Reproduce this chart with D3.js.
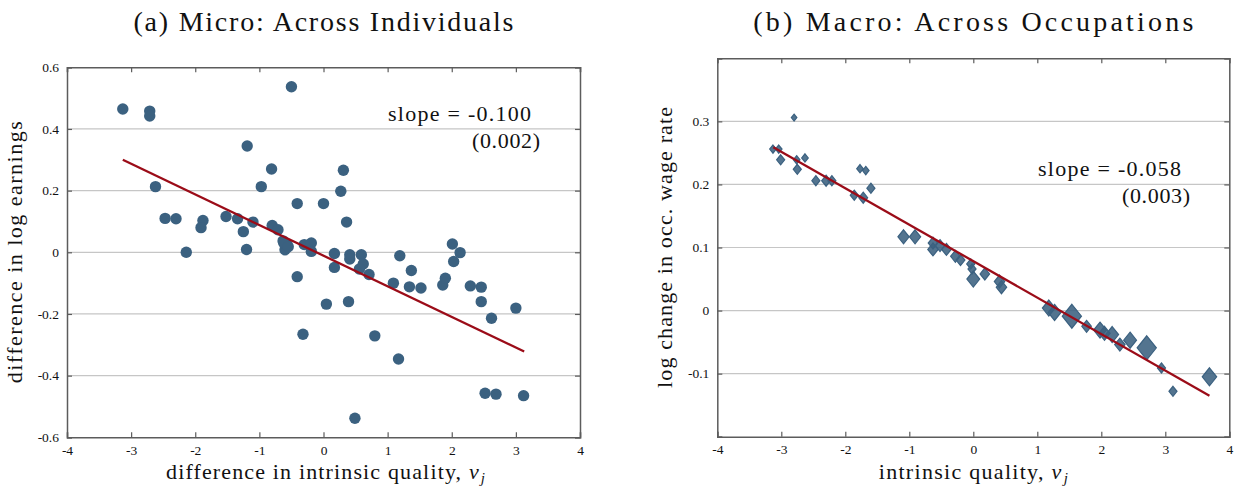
<!DOCTYPE html>
<html>
<head>
<meta charset="utf-8">
<script src="https://cdn.jsdelivr.net/npm/d3@7"></script>
<style>
  html, body { margin: 0; padding: 0; background: #fff; }
  svg text { font-family: "Liberation Serif", "DejaVu Serif", serif; fill: #111; }
</style>
</head>
<body>
<svg id="chart" width="1239" height="487"></svg>
<script>
// ---------- data ----------
const xTicks = [-4, -3, -2, -1, 0, 1, 2, 3, 4];
const microYTicks = [-0.6, -0.4, -0.2, 0, 0.2, 0.4, 0.6];
const macroYTicks = [-0.1, 0, 0.1, 0.2, 0.3];

const microX = [-3.13, -2.71, -2.71, -2.62, -2.47, -2.30, -2.14, -1.88, -1.91, -1.52,
  -1.34, -1.25, -1.19, -1.20, -1.10, -0.97, -0.81, -0.80, -0.71, -0.63,
  -0.57, -0.60, -0.50, -0.41, -0.41, -0.32, -0.30, -0.19, -0.19, 0.00,
  0.045, 0.17, 0.17, 0.27, 0.31, 0.36, 0.39, 0.41, 0.41, 0.49,
  0.59, 0.62, 0.56, 0.71, 0.80, 1.09, 1.19, 1.17, 1.37, 1.34,
  1.52, 1.86, 1.90, 2.01, 2.13, 2.03, 2.29, 2.46, 2.46, 2.62,
  3.00, 2.52, 2.69, 3.12, -0.62, -0.55];
const microY = [0.465, 0.458, 0.442, 0.213, 0.110, 0.109, 0.000, 0.103, 0.080, 0.116,
  0.109, 0.067, 0.345, 0.009, 0.098, 0.213, 0.270, 0.087, 0.073, 0.037,
  0.026, 0.008, 0.537, 0.158, -0.079, -0.266, 0.025, 0.030, 0.003, 0.158,
  -0.168, -0.004, -0.049, 0.198, 0.266, 0.098, -0.160, -0.008, -0.022, -0.538,
  -0.008, -0.038, -0.054, -0.072, -0.271, -0.100, -0.011, -0.346, -0.059, -0.112,
  -0.116, -0.106, -0.084, 0.027, -0.001, -0.030, -0.109, -0.113, -0.160, -0.214,
  -0.181, -0.457, -0.460, -0.465, 0.030, 0.018];
const microFitX = [-3.13, 3.13];
const microFitY = [0.300, -0.322];

const macroX = [-3.13, -3.04, -3.01, -2.80, -2.76, -2.75, -2.63, -2.46, -2.30, -2.21,
  -1.77, -1.68, -1.60, -1.86, -1.72, -1.09, -0.91, -0.63, -0.63, -0.52,
  -0.42, -0.28, -0.20, -0.04, -0.02, 0.00, 0.18, 0.41, 0.44, 1.18,
  1.27, 1.54, 1.77, 1.98, 2.05, 2.17, 2.29, 2.45, 2.71, 2.94,
  3.12, 3.69];
const macroY = [0.256, 0.256, 0.239, 0.306, 0.239, 0.224, 0.242, 0.206, 0.206, 0.206,
  0.225, 0.222, 0.194, 0.183, 0.179, 0.117, 0.117, 0.107, 0.097, 0.103,
  0.097, 0.086, 0.080, 0.074, 0.066, 0.050, 0.058, 0.046, 0.037, 0.004,
  -0.003, -0.009, -0.025, -0.031, -0.036, -0.038, -0.054, -0.047, -0.059, -0.091,
  -0.128, -0.105];
const macroWeight = [10, 10, 15, 7, 10, 15, 10, 15, 18, 15,
  10, 10, 15, 15, 18, 29, 29, 21, 25, 21,
  21, 21, 18, 15, 15, 38, 21, 25, 25, 38,
  38, 85, 21, 38, 29, 38, 25, 38, 85, 15,
  15, 48];
const macroFitX = [-3.125, 3.69];
const macroFitY = [0.259, -0.135];

const titles = ["(a) Micro: Across Individuals", "(b) Macro: Across Occupations"];
const yLabels = ["difference in log earnings", "log change in occ. wage rate"];
const xLabelPrefix = ["difference in intrinsic quality, ", "intrinsic quality, "];
const slopeText = ["slope = -0.100", "slope = -0.058"];
const seText = ["(0.002)", "(0.003)"];

// ---------- styles ----------
const dotColor = "#3b6180";
const lineColor = "#9b0c18";
const gridColor = "#c6c6c6";
const axisColor = "#5c5c5c";

const svg = d3.select("#chart");

// widen text to the width seen in the reference (Computer Modern is wider)
function fitWidth(sel, target) {
  const node = sel.node();
  const n = Math.max(1, node.textContent.length - 1);
  const w = node.getComputedTextLength ? node.getComputedTextLength() : node.getBBox().width;
  const ls = Math.max(0, (target - w) / n);
  sel.style("letter-spacing", ls + "px");
  return ls;
}

function panel(cfg) {
  const { x, y, yTicks, gridTicks, idx, widths } = cfg;
  const g = svg.append("g");
  const [x0, x1] = x.range();
  const [y0, y1] = y.range();

  g.selectAll("line.grid").data(gridTicks).join("line")
    .attr("x1", x0).attr("x2", x1)
    .attr("y1", d => y(d)).attr("y2", d => y(d))
    .attr("stroke", gridColor).attr("stroke-width", 1.2);

  const fmt = d => (d === 0 ? "0" : String(d));
  const bottom = g.append("g").attr("transform", `translate(0,${y0})`)
    .call(d3.axisBottom(x).tickValues(xTicks).tickSize(-5).tickPadding(8).tickFormat(fmt));
  const top = g.append("g").attr("transform", `translate(0,${y1})`)
    .call(d3.axisTop(x).tickValues(xTicks).tickSize(-5).tickFormat(""));
  const left = g.append("g").attr("transform", `translate(${x0},0)`)
    .call(d3.axisLeft(y).tickValues(yTicks).tickSize(-5).tickPadding(8).tickFormat(fmt));
  const right = g.append("g").attr("transform", `translate(${x1},0)`)
    .call(d3.axisRight(y).tickValues(yTicks).tickSize(-5).tickFormat(""));
  [bottom, top, left, right].forEach(a => {
    a.select(".domain").attr("stroke", axisColor).attr("stroke-width", 1.5);
    a.selectAll(".tick line").attr("stroke", axisColor).attr("stroke-width", 1.2);
    a.selectAll(".tick text").style("font-family", '"Liberation Serif", serif')
      .style("font-size", "13.5px").attr("fill", "#222");
  });

  const cx = (x0 + x1) / 2, cy = (y0 + y1) / 2;
  const t = svg.append("text").attr("x", cx).attr("y", 31).attr("text-anchor", "middle")
    .style("font-size", "28px").text(titles[idx]);
  let ls = fitWidth(t, widths.title);
  t.attr("x", cx + ls / 2);

  const xl = svg.append("text").attr("x", cx + widths.xShift).attr("y", 479).attr("text-anchor", "middle")
    .style("font-size", "22px");
  xl.append("tspan").text(xLabelPrefix[idx]);
  xl.append("tspan").style("font-style", "italic").text("ν");
  xl.append("tspan").style("font-style", "italic").style("font-size", "15px")
    .attr("dy", 4).attr("dx", 1).text("j");
  ls = fitWidth(xl, widths.xlabel);
  xl.attr("x", cx + widths.xShift + ls / 2);

  const yl = svg.append("text")
    .attr("text-anchor", "middle").style("font-size", "22px").text(yLabels[idx]);
  ls = fitWidth(yl, widths.ylabel);
  yl.attr("transform", `translate(${x0 - 45},${cy - ls / 2}) rotate(-90)`);
  return g;
}

function annot(xEnd1, y1, xEnd2, y2, idx) {
  const a = svg.append("text").attr("y", y1).attr("text-anchor", "end")
    .style("font-size", "22px").text(slopeText[idx]);
  let ls = fitWidth(a, 143);
  a.attr("x", xEnd1 + ls);
  const b = svg.append("text").attr("y", y2).attr("text-anchor", "end")
    .style("font-size", "22px").text(seText[idx]);
  ls = fitWidth(b, 68);
  b.attr("x", xEnd2 + ls);
}

// ---------- left panel ----------
const xL = d3.scaleLinear().domain([-4, 4]).range([67, 580]);
const yL = d3.scaleLinear().domain([-0.6, 0.6]).range([437.3, 67.3]);
const gL = panel({ x: xL, y: yL, yTicks: microYTicks, gridTicks: [-0.4, -0.2, 0, 0.2, 0.4], idx: 0,
  widths: { title: 380, xlabel: 318, ylabel: 262, xShift: 2 } });

gL.append("g").selectAll("circle").data(d3.range(microX.length)).join("circle")
  .attr("cx", i => xL(microX[i])).attr("cy", i => yL(microY[i]))
  .attr("r", 5.7).attr("fill", dotColor);

gL.append("line")
  .attr("x1", xL(microFitX[0])).attr("y1", yL(microFitY[0]))
  .attr("x2", xL(microFitX[1])).attr("y2", yL(microFitY[1]))
  .attr("stroke", lineColor).attr("stroke-width", 2.3);

annot(531, 121, 540, 148, 0);

// ---------- right panel ----------
const xR = d3.scaleLinear().domain([-4, 4]).range([717.3, 1229.3]);
const yR = d3.scaleLinear().domain([-0.2, 0.4]).range([436.7, 58.3]);
const gR = panel({ x: xR, y: yR, yTicks: [-0.2, ...macroYTicks, 0.4], gridTicks: macroYTicks, idx: 1,
  widths: { title: 440, xlabel: 188, ylabel: 281, xShift: 0 } });
gR.selectAll(".tick text").filter(d => d === -0.2 || d === 0.4).remove();

const hScale = d3.scaleSqrt().domain([0, 100]).range([0, 13]);
const order = d3.range(macroX.length).sort((a, b) => macroWeight[b] - macroWeight[a]);
gR.append("g").selectAll("path").data(order).join("path")
  .attr("transform", i => `translate(${xR(macroX[i])},${yR(macroY[i])})`)
  .attr("d", i => {
    const h = hScale(macroWeight[i]);
    return `M0,${-h}L${h * 0.8},0L0,${h}L${-h * 0.8},0Z`;
  })
  .attr("fill", dotColor).attr("fill-opacity", 0.88)
  .attr("stroke", dotColor).attr("stroke-width", 1.2);

gR.append("line")
  .attr("x1", xR(macroFitX[0])).attr("y1", yR(macroFitY[0]))
  .attr("x2", xR(macroFitX[1])).attr("y2", yR(macroFitY[1]))
  .attr("stroke", lineColor).attr("stroke-width", 2.3);

annot(1181, 176, 1190, 203, 1);
</script>
</body>
</html>
